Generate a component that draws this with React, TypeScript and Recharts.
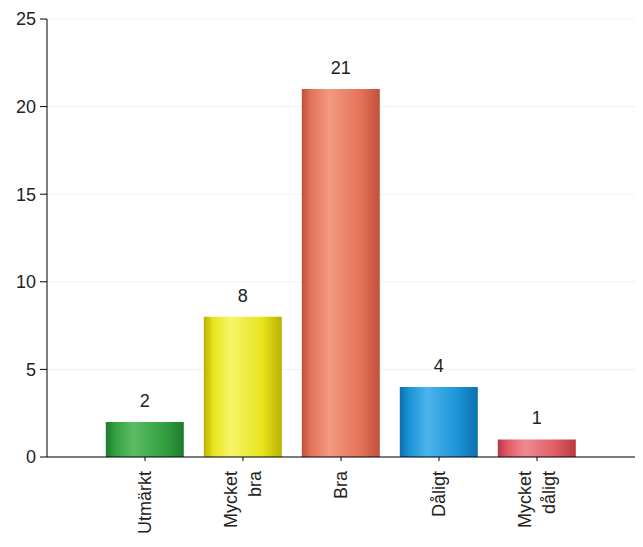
import { BarChart, Bar, XAxis, YAxis, CartesianGrid, Cell, LabelList } from 'recharts';

const categories = ['Utmärkt', 'Mycket bra', 'Bra', 'Dåligt', 'Mycket dåligt'];
const counts = [2, 8, 21, 4, 1];
const yTicks = [0, 5, 10, 15, 20, 25];
const barColors = [
  { id: 'gGreen', dark: '#1f7a2c', light: '#5dbb64', base: '#33a040' },
  { id: 'gYellow', dark: '#b8b000', light: '#f6f46a', base: '#e8e41c' },
  { id: 'gSalmon', dark: '#c0503c', light: '#f29a82', base: '#e5735a' },
  { id: 'gBlue', dark: '#0f6fae', light: '#4cb4ec', base: '#1a93d6' },
  { id: 'gRed', dark: '#b83844', light: '#f08a92', base: '#e05a64' },
];

const data = categories.map((name, i) => ({ name, value: counts[i] }));

const FONT = '"Liberation Sans", Arial, sans-serif';

function RotatedTick(props: any) {
  const { x, y, payload } = props;
  const lines = String(payload.value).split(' ');
  const lh = 24;
  const first = -((lines.length - 1) * lh) / 2 + 6;
  return (
    <g transform={`translate(${x},${y + 8})`}>
      <text
        transform="rotate(-90)"
        textAnchor="end"
        fontSize={18}
        fontFamily={FONT}
        fill="#222"
      >
        {lines.map((l, i) => (
          <tspan key={i} x={0} y={first + i * lh}>{l}</tspan>
        ))}
      </text>
    </g>
  );
}

export default function App() {
  return (
    <div style={{ position: 'absolute', left: 0, top: 0, background: '#fff' }}>
      <BarChart
        width={643}
        height={547}
        data={data}
        margin={{ top: 19, right: 8, left: 0, bottom: 0 }}
        barCategoryGap="10%"
      >
        <defs>
          {barColors.map((c) => (
            <linearGradient key={c.id} id={c.id} x1="0" y1="0" x2="1" y2="0">
              <stop offset="0%" stopColor={c.dark} />
              <stop offset="12%" stopColor={c.base} />
              <stop offset="35%" stopColor={c.light} />
              <stop offset="75%" stopColor={c.base} />
              <stop offset="100%" stopColor={c.dark} />
            </linearGradient>
          ))}
        </defs>
        <CartesianGrid vertical={false} stroke="#f1f1f1" />
        <XAxis
          dataKey="name"
          interval={0}
          padding={{ left: 49, right: 49 }}
          stroke="#000"
          tickSize={4}
          tick={<RotatedTick />}
          height={90}
        />
        <YAxis
          domain={[0, 25]}
          ticks={yTicks}
          width={47}
          stroke="#000"
          tickSize={7}
          tickMargin={4}
          tick={{ fontSize: 18, fill: '#222', fontFamily: FONT }}
        />
        <Bar dataKey="value" isAnimationActive={false}>
          {data.map((d, i) => (
            <Cell key={d.name} fill={`url(#${barColors[i].id})`} />
          ))}
          <LabelList
            dataKey="value"
            position="top"
            offset={15}
            style={{ fontSize: 18, fill: '#222', fontFamily: FONT }}
          />
        </Bar>
      </BarChart>
    </div>
  );
}
